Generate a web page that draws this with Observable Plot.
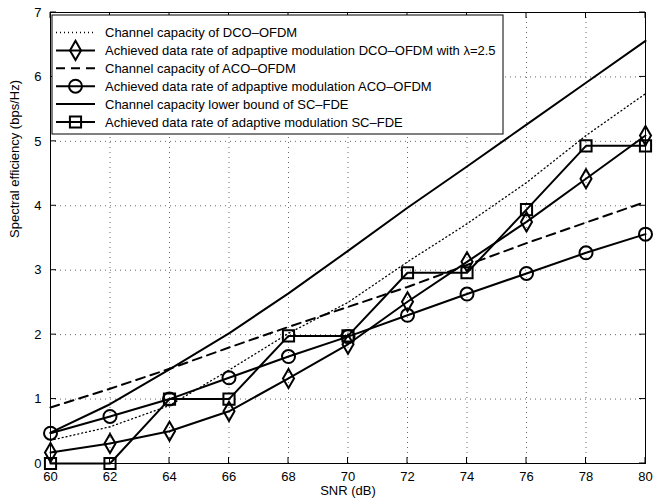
<!DOCTYPE html>
<html><head><meta charset="utf-8">
<script src="https://cdn.jsdelivr.net/npm/d3@7"></script>
<script src="https://cdn.jsdelivr.net/npm/@observablehq/plot@0.6"></script>
<style>body{margin:0;background:#fff} #chart{width:664px;height:504px}</style>
</head><body><div id="chart"></div>
<script>
// ---- data ----
const snr = [60, 62, 64, 66, 68, 70, 72, 74, 76, 78, 80];
const xTicks = [60, 62, 64, 66, 68, 70, 72, 74, 76, 78, 80];
const yTicks = [0, 1, 2, 3, 4, 5, 6, 7];
const dcoCapacity = [0.36, 0.57, 0.90, 1.45, 2.02, 2.50, 3.13, 3.72, 4.36, 5.09, 5.74];
const dcoAchieved = [0.17, 0.31, 0.50, 0.81, 1.32, 1.85, 2.51, 3.13, 3.75, 4.42, 5.09];
const acoCapacity = [0.87, 1.16, 1.47, 1.80, 2.12, 2.43, 2.74, 3.08, 3.42, 3.74, 4.06];
const acoAchieved = [0.47, 0.73, 1.00, 1.33, 1.66, 1.97, 2.30, 2.63, 2.95, 3.27, 3.56];
const scCapacity  = [0.48, 0.92, 1.46, 2.02, 2.64, 3.30, 3.97, 4.61, 5.26, 5.91, 6.56];
const scAchieved  = [0.00, 0.00, 1.00, 1.00, 1.98, 1.98, 2.96, 2.96, 3.94, 4.93, 4.93];
const seriesLabels = [
  "Channel capacity of DCO\u2013OFDM",
  "Achieved data rate of adpaptive modulation DCO\u2013OFDM with \u03bb=2.5",
  "Channel capacity of ACO\u2013OFDM",
  "Achieved data rate of adpaptive modulation ACO\u2013OFDM",
  "Channel capacity lower bound of SC\u2013FDE",
  "Achieved data rate of adaptive modulation SC\u2013FDE"
];
const xLabel = "SNR (dB)";
const yLabel = "Spectral efficiency (bps/Hz)";

// ---- styles ----
const styles = [
  {dash: "1,3", width: 1.3, symbol: null},
  {dash: null, width: 2, symbol: "diamond", r: 5.8},
  {dash: "9,6", width: 2, symbol: null},
  {dash: null, width: 2, symbol: "circle", r: 6.5},
  {dash: null, width: 2, symbol: null},
  {dash: null, width: 2, symbol: "square", r: 6.3}
];
const seriesValues = [dcoCapacity, dcoAchieved, acoCapacity, acoAchieved, scCapacity, scAchieved];
const rows = (vals) => snr.map((x, i) => ({x, y: vals[i]}));
const fmt = d => String(d);

const marks = [
  Plot.gridX(xTicks, {stroke: "#666", strokeOpacity: 1, strokeDasharray: "1,4"}),
  Plot.gridY(yTicks, {stroke: "#666", strokeOpacity: 1, strokeDasharray: "1,4"}),
  Plot.axisX(xTicks, {tickSize: 0, tickPadding: 8, label: null, tickFormat: fmt}),
  Plot.axisY(yTicks, {tickSize: 0, tickPadding: 9, label: null, tickFormat: fmt}),
  Plot.text([xLabel], {frameAnchor: "bottom", dy: 31, text: d => d}),
  Plot.text([yLabel], {frameAnchor: "left", dx: -36, rotate: -90, text: d => d})
];
seriesValues.forEach((vals, i) => {
  const s = styles[i];
  marks.push(Plot.line(rows(vals), {x: "x", y: "y", stroke: "black", strokeWidth: s.width,
    strokeDasharray: s.dash || undefined}));
  if (s.symbol) marks.push(Plot.dot(rows(vals), {x: "x", y: "y", symbol: s.symbol, r: s.r,
    stroke: "black", strokeWidth: 2, fill: "none"}));
});
marks.push(Plot.frame({stroke: "black", strokeWidth: 1}));

const plot = Plot.plot({
  width: 664, height: 504,
  marginLeft: 50, marginRight: 19, marginTop: 12, marginBottom: 41,
  style: {fontFamily: "'Liberation Sans', Arial, sans-serif", fontSize: "13px", background: "white", color: "black"},
  x: {domain: [60, 80], label: null},
  y: {domain: [0, 7], label: null},
  marks
});

// inward ticks on all four sides (MATLAB style box)
const sx = plot.scale("x"), sy = plot.scale("y");
const svg = d3.select(plot);
const tg = svg.append("g").attr("stroke", "black").attr("stroke-width", 1);
const [x0, x1] = sx.range, [y0, y1] = sy.range; // y0 bottom, y1 top
xTicks.forEach(t => {
  const X = sx.apply(t);
  tg.append("line").attr("x1", X).attr("x2", X).attr("y1", y0).attr("y2", y0 - 6);
  tg.append("line").attr("x1", X).attr("x2", X).attr("y1", y1).attr("y2", y1 + 6);
});
yTicks.forEach(t => {
  const Y = sy.apply(t);
  tg.append("line").attr("x1", x0).attr("x2", x0 + 6).attr("y1", Y).attr("y2", Y);
  tg.append("line").attr("x1", x1).attr("x2", x1 - 6).attr("y1", Y).attr("y2", Y);
});

// legend (top-left, inside the axes)
const lg = svg.append("g").attr("font-family", "'Liberation Sans', Arial, sans-serif")
  .attr("font-size", 13).attr("text-anchor", "start");
const lx = x0 + 2, ly = y1 + 3, lw = 451, lh = 119, rowH = 17.9;
lg.append("rect").attr("x", lx).attr("y", ly).attr("width", lw).attr("height", lh)
  .attr("fill", "white").attr("stroke", "black").attr("stroke-width", 1);
const symbolTypes = {diamond: d3.symbolDiamond, circle: d3.symbolCircle, square: d3.symbolSquare};
seriesLabels.forEach((label, i) => {
  const s = styles[i];
  const cy = ly + 17.5 + i * rowH;
  const ln = lg.append("line").attr("x1", lx + 4).attr("x2", lx + 43).attr("y1", cy).attr("y2", cy)
    .attr("stroke", "black").attr("stroke-width", s.width);
  if (s.dash) ln.attr("stroke-dasharray", s.dash);
  if (s.symbol) {
    lg.append("path").attr("d", d3.symbol(symbolTypes[s.symbol], Math.PI * s.r * s.r)())
      .attr("transform", `translate(${lx + 23.5},${cy})`)
      .attr("fill", "none").attr("stroke", "black").attr("stroke-width", 2);
  }
  lg.append("text").attr("x", lx + 53).attr("y", cy).attr("dy", "0.35em")
    .attr("text-anchor", "start").attr("fill", "black").text(label);
});

document.getElementById("chart").appendChild(plot);
</script>
</body></html>
